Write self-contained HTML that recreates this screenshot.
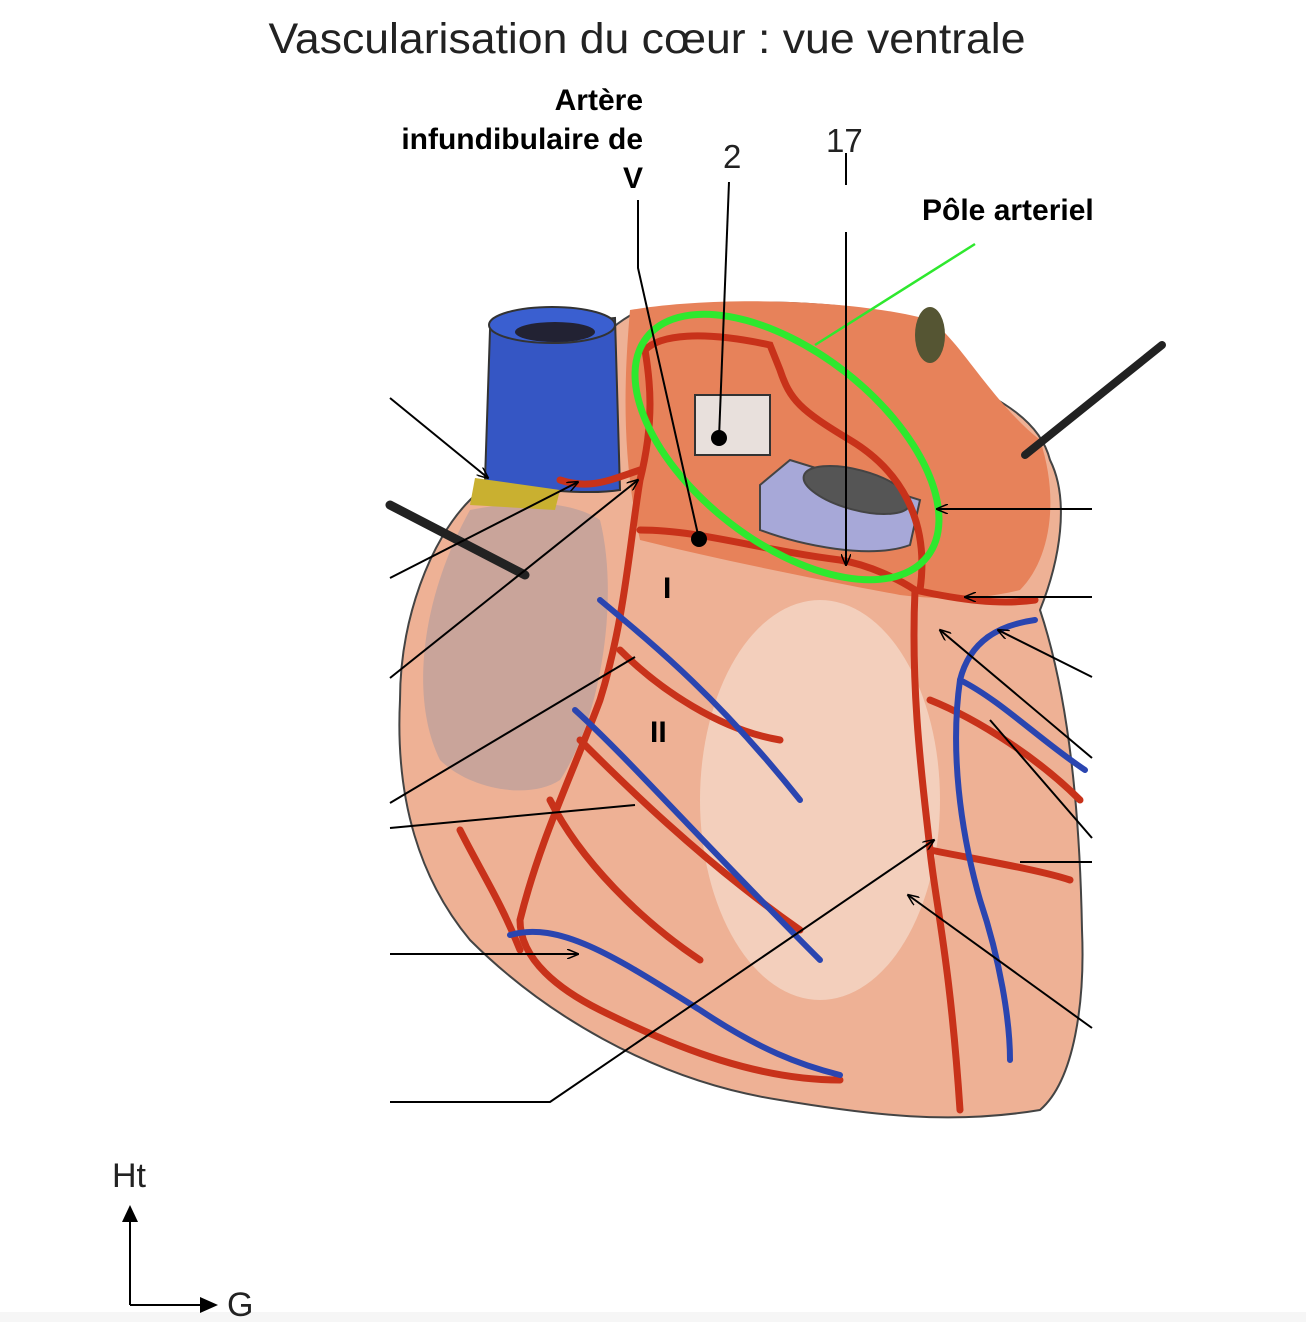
<!DOCTYPE html>
<html><head><meta charset="utf-8"><style>
html,body{margin:0;padding:0;background:#fff;}
svg{display:block}
</style></head><body>
<svg width="1306" height="1322" viewBox="0 0 1306 1322" xmlns="http://www.w3.org/2000/svg">
<defs>
<marker id="a" markerWidth="12" markerHeight="10" refX="11" refY="5" orient="auto" markerUnits="userSpaceOnUse"><path d="M0,0 L12,5 L0,10" fill="none" stroke="#000" stroke-width="1.5"/></marker>
</defs>
<rect x="0" y="1312" width="1306" height="10" fill="#f6f6f6"/>
<text x="647" y="53" font-family="Liberation Sans, sans-serif" font-size="43" text-anchor="middle" fill="#222" textLength="757" lengthAdjust="spacingAndGlyphs">Vascularisation du cœur : vue ventrale</text>
<g font-family="Liberation Sans, sans-serif" font-weight="bold" font-size="30" fill="#000">
<text x="643" y="110" text-anchor="end">Artère</text>
<text x="643" y="149" text-anchor="end">infundibulaire de</text>
<text x="643" y="188" text-anchor="end">V</text>
<text x="922" y="220">Pôle arteriel</text>
</g>
<g font-family="Liberation Sans, sans-serif" font-size="33" fill="#222">
<text x="723" y="168">2</text>
<text x="826" y="152">17</text>
</g>
<!-- heart body -->
<path d="M470,500 C430,540 400,620 400,700 C395,800 420,880 470,940 C540,1010 650,1080 780,1100 C870,1115 950,1125 1040,1110 C1075,1080 1085,1000 1082,930 C1080,820 1070,700 1040,610 C1060,560 1070,500 1050,460 C1040,420 1000,400 960,380 C950,340 930,320 870,310 C800,300 720,300 640,310 C600,330 580,360 560,400 C530,440 500,470 470,500 Z" fill="#eeb195" stroke="#444" stroke-width="2"/>
<ellipse cx="820" cy="800" rx="120" ry="200" fill="#f4d7c6" opacity="0.8"/>
<path d="M630,310 C720,295 860,300 930,320 C960,340 990,400 1040,440 C1060,500 1050,560 1020,590 C980,600 940,600 900,595 C820,580 720,560 640,540 C620,450 625,370 630,310 Z" fill="#e7825a"/>
<path d="M470,510 C520,500 570,500 600,520 C620,600 600,720 560,780 C530,800 470,790 440,760 C410,700 420,600 470,510 Z" fill="#c9a49a"/>
<path d="M490,330 L615,318 L620,490 C590,495 520,490 485,480 Z" fill="#3556c4" stroke="#333" stroke-width="2"/>
<ellipse cx="552" cy="325" rx="63" ry="18" fill="#3a5fd0" stroke="#333" stroke-width="2"/>
<ellipse cx="555" cy="332" rx="40" ry="10" fill="#223"/>
<path d="M475,478 L560,490 L555,510 L470,505 Z" fill="#c9b030"/>
<rect x="695" y="395" width="75" height="60" fill="#e8e0dc" stroke="#333" stroke-width="2"/>
<circle cx="719" cy="438" r="8" fill="#000"/>
<path d="M760,485 L790,460 L920,500 L910,545 C870,560 800,545 760,530 Z" fill="#a7a8d8" stroke="#444" stroke-width="2"/>
<ellipse cx="857" cy="490" rx="55" ry="20" transform="rotate(15 857 490)" fill="#555" stroke="#444" stroke-width="2"/>
<ellipse cx="930" cy="335" rx="15" ry="28" fill="#553" />
<path d="M390,505 L525,575" stroke="#222" stroke-width="9" stroke-linecap="round"/>
<path d="M1162,345 L1025,455" stroke="#222" stroke-width="8" stroke-linecap="round"/>
<g fill="none" stroke="#c8321a" stroke-width="7" stroke-linecap="round">
<path d="M645,350 C660,335 700,330 770,345 L780,370 C790,400 800,410 850,440 C900,470 930,520 920,590"/>
<path d="M645,350 C650,380 655,420 640,480 C630,540 625,620 600,700 C570,780 540,840 520,920 C520,960 560,990 600,1010 C680,1050 760,1080 840,1080"/>
<path d="M640,530 C700,530 760,550 840,560 C870,565 900,580 915,590 C910,700 925,800 930,850 C935,900 950,960 960,1110"/>
<path d="M915,590 C960,600 1000,605 1035,600"/>
<path d="M620,650 C660,690 720,730 780,740"/>
<path d="M580,740 C620,780 700,860 800,930"/>
<path d="M550,800 C580,860 640,920 700,960"/>
<path d="M930,700 C980,720 1040,760 1080,800"/>
<path d="M930,850 C980,860 1040,870 1070,880"/>
<path d="M560,480 C590,490 610,480 640,470"/>
<path d="M460,830 C480,870 500,900 520,950"/>
</g>
<g fill="none" stroke="#2a45b0" stroke-width="6" stroke-linecap="round">
<path d="M600,600 C660,650 720,700 800,800"/>
<path d="M575,710 C630,760 700,840 820,960"/>
<path d="M510,935 C560,920 620,960 700,1010 C760,1050 800,1065 840,1075"/>
<path d="M1035,620 C1000,625 970,640 960,680 C950,750 960,830 980,900 C1000,960 1010,1020 1010,1060"/>
<path d="M960,680 C1000,700 1040,740 1085,770"/>
</g>
<circle cx="699" cy="539" r="8" fill="#000"/>
<text x="663" y="598" font-family="Liberation Sans, sans-serif" font-weight="bold" font-size="30">I</text>
<text x="650" y="742" font-family="Liberation Sans, sans-serif" font-weight="bold" font-size="30">II</text>
<ellipse cx="787" cy="447" rx="178" ry="95" transform="rotate(38 787 447)" fill="none" stroke="#2ee82e" stroke-width="7"/>
<line x1="975" y1="244" x2="815" y2="345" stroke="#2ee82e" stroke-width="2.5"/>
<g stroke="#000" stroke-width="2" fill="none">
<path d="M638,200 L638,268 L699,539"/>
<line x1="729" y1="182" x2="719" y2="438"/>
<line x1="846" y1="153" x2="846" y2="185"/>
<line x1="846" y1="232" x2="846" y2="565" marker-end="url(#a)"/>
<line x1="390" y1="398" x2="488" y2="478" marker-end="url(#a)"/>
<line x1="390" y1="578" x2="578" y2="482" marker-end="url(#a)"/>
<line x1="390" y1="678" x2="638" y2="480" marker-end="url(#a)"/>
<line x1="390" y1="803" x2="635" y2="657"/>
<line x1="390" y1="828" x2="635" y2="805"/>
<line x1="390" y1="954" x2="578" y2="954" marker-end="url(#a)"/>
<path d="M390,1102 L550,1102 L934,840" marker-end="url(#a)"/>
<line x1="1092" y1="509" x2="937" y2="509" marker-end="url(#a)"/>
<line x1="1092" y1="597" x2="965" y2="597" marker-end="url(#a)"/>
<line x1="1092" y1="677" x2="998" y2="630" marker-end="url(#a)"/>
<line x1="1092" y1="758" x2="940" y2="630" marker-end="url(#a)"/>
<line x1="1092" y1="838" x2="990" y2="720"/>
<line x1="1092" y1="862" x2="1020" y2="862"/>
<line x1="1092" y1="1028" x2="908" y2="895" marker-end="url(#a)"/>
</g>
<text x="112" y="1187" font-family="Liberation Sans, sans-serif" font-size="34" fill="#222">Ht</text>
<text x="227" y="1316" font-family="Liberation Sans, sans-serif" font-size="34" fill="#222">G</text>
<line x1="130" y1="1305" x2="130" y2="1215" stroke="#000" stroke-width="2"/>
<path d="M122,1222 L130,1205 L138,1222 Z" fill="#000"/>
<line x1="130" y1="1305" x2="205" y2="1305" stroke="#000" stroke-width="2"/>
<path d="M200,1297 L218,1305 L200,1313 Z" fill="#000"/>
</svg>
</body></html>
